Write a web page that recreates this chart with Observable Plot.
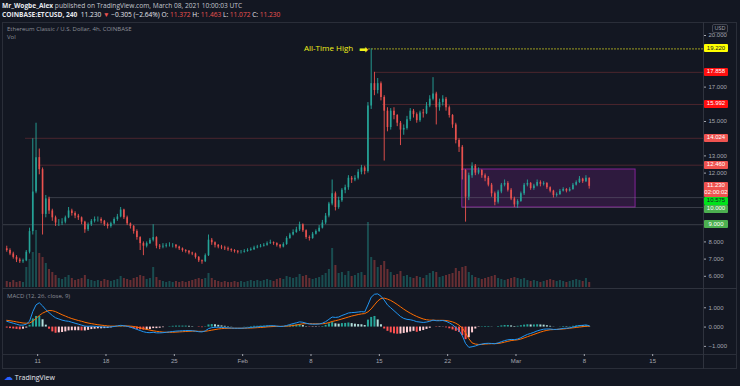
<!DOCTYPE html>
<html><head><meta charset="utf-8">
<script src="https://cdn.jsdelivr.net/npm/d3@7"></script>
<script src="https://cdn.jsdelivr.net/npm/@observablehq/plot@0.6"></script>
<style>
html,body{margin:0;padding:0;background:#131722;}
#root{position:relative;width:740px;height:386px;overflow:hidden;background:#131722;font-family:"Open Sans","Noto Sans",sans-serif;color:#d1d4dc;}
#root svg{position:absolute;left:0;top:0;overflow:visible;}
.t{position:absolute;white-space:nowrap;line-height:1;}
.hl{position:absolute;background:#2a2e39;}
.tag{position:absolute;left:704px;width:24px;font-size:6px;line-height:8px;text-align:center;font-family:"Liberation Sans",sans-serif;border-radius:1px;}
</style></head>
<body><div id="root"></div>
<script>
// ---------------- DATA ----------------
const firstCandle = "2021-01-07T20:00:00Z"; // centre of first 8h candle
const candleHours = 8;
const firstOpen = 7.6;
const closes = [
 7.5,7.3,7.1,6.95,6.85,6.9,7.4,8.6,10.9,12.9,
 12.2,9.6,10.5,9.8,9.4,9.1,9.1,9.15,9.4,9.8,
 9.65,9.5,9.4,9.15,8.7,9.0,9.2,9.3,9.3,9.2,
 9.0,8.9,9.05,9.3,9.45,9.85,9.4,9.05,8.9,8.6,
 8.25,7.9,7.75,7.9,8.1,8.25,7.75,7.7,7.75,7.8,
 7.8,7.8,7.7,7.6,7.5,7.45,7.35,7.3,7.1,6.9,
 6.85,7.2,8.1,7.95,7.8,7.7,7.65,7.6,7.55,7.5,
 7.45,7.4,7.4,7.45,7.5,7.55,7.65,7.7,7.75,7.8,
 7.9,7.95,7.9,7.8,7.7,7.85,8.2,8.4,8.55,8.7,
 9.0,8.65,8.25,8.2,8.45,8.6,8.8,9.1,9.5,10.2,
 10.8,10.0,10.4,11.0,11.15,11.7,11.6,11.7,12.05,12.3,
 12.1,15.9,17.2,16.8,17.2,16.4,15.6,14.65,15.6,15.35,
 14.9,14.5,14.6,15.1,15.6,15.4,15.05,15.5,15.45,15.9,
 16.3,16.6,15.8,16.1,16.3,15.8,15.35,14.8,13.9,13.5,
 12.15,10.6,11.85,12.4,12.0,12.15,11.85,11.7,11.3,10.8,
 10.3,10.9,11.3,11.4,11.0,10.5,10.15,10.35,10.8,11.3,
 11.4,11.1,11.25,11.45,11.35,11.4,11.15,10.95,10.7,10.75,
 10.95,11.05,10.95,11.05,11.3,11.45,11.65,11.5,11.7,11.23];
const highs = [
 7.75,7.6,7.4,7.2,7.05,7.0,7.5,8.8,14.0,14.9,
 13.4,12.3,10.7,10.6,9.9,9.5,9.3,9.35,9.5,10.0,
 9.9,9.75,9.6,9.45,9.2,9.1,9.3,9.45,9.45,9.4,
 9.25,9.1,9.15,9.4,9.6,10.0,9.9,9.5,9.1,8.95,
 8.7,8.3,8.0,8.0,8.2,9.0,8.3,7.85,7.9,7.9,
 7.95,7.9,7.85,7.75,7.65,7.55,7.5,7.4,7.35,7.15,
 6.95,7.3,8.4,8.2,8.0,7.85,7.8,7.75,7.7,7.6,
 7.55,7.5,7.5,7.55,7.6,7.65,7.75,7.8,7.85,7.9,
 8.0,8.1,8.0,7.95,7.85,7.95,8.3,8.5,8.7,8.85,
 9.15,9.05,8.7,8.35,8.55,8.7,8.95,9.25,9.65,10.3,
 11.6,10.9,10.6,11.1,11.3,11.85,11.8,11.85,12.2,12.45,
 12.4,16.1,19.22,17.86,17.5,17.3,16.5,15.8,15.75,15.8,
 15.4,15.0,14.8,15.3,15.75,15.7,15.5,15.6,15.7,16.1,
 16.5,17.55,16.7,16.3,16.5,16.4,15.9,15.4,14.9,14.0,
 13.6,12.2,12.0,12.6,12.5,12.3,12.2,11.95,11.8,11.4,
 10.9,11.0,11.4,11.6,11.5,11.1,10.6,10.45,10.9,11.4,
 11.6,11.45,11.35,11.6,11.55,11.5,11.45,11.2,11.0,10.85,
 11.05,11.15,11.1,11.15,11.4,11.55,11.8,11.7,11.85,11.72];
const lows = [
 7.4,7.2,7.0,6.8,6.75,6.75,6.85,7.3,8.4,10.8,
 11.9,8.4,9.4,9.6,9.2,8.9,8.9,8.95,9.05,9.35,
 9.5,9.35,9.25,9.0,8.5,8.6,8.9,9.1,9.15,9.05,
 8.9,8.75,8.8,9.0,9.2,9.4,9.3,8.95,8.75,8.45,
 8.1,7.5,7.2,7.65,7.85,8.0,7.6,7.55,7.6,7.65,
 7.7,7.65,7.6,7.5,7.4,7.35,7.25,7.2,7.0,6.8,
 6.7,6.8,7.15,7.8,7.65,7.6,7.55,7.5,7.45,7.4,
 7.35,7.3,7.3,7.35,7.4,7.45,7.5,7.6,7.65,7.7,
 7.75,7.85,7.8,7.7,7.6,7.65,7.8,8.15,8.35,8.5,
 8.6,8.55,8.15,8.05,8.15,8.4,8.55,8.75,9.0,9.4,
 10.1,9.8,9.9,10.3,10.8,11.0,11.4,11.5,11.6,11.9,
 11.9,12.0,15.7,16.5,16.6,16.2,12.7,14.4,14.5,15.1,
 14.7,13.6,14.2,14.5,15.0,15.2,14.9,14.95,15.2,15.4,
 15.8,16.2,14.8,15.6,15.9,15.6,15.2,14.6,13.7,13.2,
 11.6,9.15,10.4,11.7,11.85,11.9,11.7,11.5,11.2,10.6,
 10.1,10.2,10.8,11.2,10.9,10.4,10.0,9.95,10.3,10.7,
 11.2,11.0,11.0,11.2,11.2,11.25,11.05,10.85,10.55,10.6,
 10.7,10.9,10.85,10.9,11.0,11.25,11.4,11.4,11.45,11.07];
const volumes = [
 6,5,7,5,6,5,20,28,35,57,
 34,30,24,18,15,12,9,8,10,12,
 9,7,8,9,12,8,7,6,7,6,
 8,7,6,7,8,11,9,8,7,9,
 10,12,11,8,9,20,10,7,6,5,
 6,5,6,5,6,5,6,7,8,9,
 8,9,14,9,7,6,5,6,5,5,
 6,5,6,5,6,7,6,7,6,7,
 8,7,6,8,9,8,11,10,9,10,
 13,11,12,9,8,9,10,12,14,18,
 39,22,14,15,12,16,11,12,14,15,
 12,65,30,27,20,22,26,18,15,12,
 13,16,11,12,10,9,11,10,9,12,
 14,16,15,10,11,12,13,14,19,16,
 20,21,15,12,10,9,8,9,10,11,
 12,9,8,7,8,9,10,9,8,9,
 7,6,7,6,5,6,7,8,7,6,
 7,6,5,6,7,8,7,6,9,5];
const macdLine = [
 0.30,0.25,0.20,0.15,0.10,0.10,0.15,0.30,0.80,1.15,
 1.26,1.10,0.90,0.75,0.60,0.48,0.42,0.36,0.32,0.30,
 0.25,0.20,0.15,0.10,0.05,0.04,0.05,0.04,0.03,0.01,
 0.00,-0.01,0.01,0.03,0.06,0.09,0.07,0.04,0.00,-0.06,
 -0.12,-0.18,-0.24,-0.28,-0.29,-0.27,-0.30,-0.30,-0.29,-0.27,
 -0.25,-0.23,-0.21,-0.20,-0.19,-0.18,-0.18,-0.19,-0.21,-0.24,
 -0.25,-0.20,-0.08,-0.03,-0.01,-0.01,-0.02,-0.03,-0.04,-0.05,
 -0.06,-0.06,-0.06,-0.05,-0.04,-0.02,0.00,0.01,0.03,0.04,
 0.06,0.07,0.07,0.05,0.03,0.04,0.08,0.13,0.18,0.22,
 0.27,0.25,0.20,0.16,0.15,0.15,0.16,0.20,0.28,0.40,
 0.52,0.50,0.52,0.60,0.66,0.73,0.75,0.76,0.78,0.80,
 0.78,1.15,1.55,1.70,1.72,1.60,1.40,1.15,1.00,0.85,
 0.70,0.55,0.45,0.40,0.38,0.34,0.28,0.26,0.24,0.26,
 0.30,0.36,0.33,0.33,0.34,0.30,0.22,0.12,-0.02,-0.18,
 -0.45,-0.85,-1.05,-1.02,-0.98,-0.92,-0.88,-0.85,-0.84,-0.85,
 -0.86,-0.82,-0.76,-0.70,-0.66,-0.64,-0.65,-0.62,-0.55,-0.46,
 -0.38,-0.33,-0.27,-0.20,-0.15,-0.11,-0.10,-0.10,-0.12,-0.12,
 -0.10,-0.07,-0.06,-0.04,0.00,0.04,0.08,0.09,0.11,0.07];
const signalLine = [
 0.35,0.33,0.30,0.27,0.24,0.21,0.20,0.21,0.30,0.45,
 0.60,0.72,0.80,0.86,0.85,0.80,0.72,0.64,0.57,0.50,
 0.44,0.39,0.34,0.30,0.25,0.21,0.18,0.15,0.12,0.10,
 0.08,0.06,0.05,0.05,0.05,0.06,0.06,0.06,0.05,0.03,
 0.00,-0.04,-0.08,-0.12,-0.16,-0.19,-0.22,-0.24,-0.26,-0.27,
 -0.27,-0.27,-0.26,-0.25,-0.24,-0.23,-0.22,-0.21,-0.21,-0.22,
 -0.22,-0.22,-0.19,-0.16,-0.13,-0.10,-0.08,-0.07,-0.06,-0.06,
 -0.06,-0.06,-0.06,-0.06,-0.05,-0.05,-0.04,-0.03,-0.02,-0.01,
 0.01,0.02,0.03,0.04,0.04,0.04,0.05,0.06,0.08,0.11,
 0.14,0.17,0.18,0.18,0.17,0.17,0.17,0.17,0.19,0.23,
 0.29,0.33,0.37,0.42,0.47,0.52,0.57,0.61,0.65,0.68,
 0.70,0.79,0.94,1.15,1.35,1.48,1.50,1.45,1.38,1.28,
 1.17,1.05,0.93,0.82,0.72,0.63,0.55,0.48,0.42,0.38,
 0.36,0.36,0.35,0.35,0.35,0.34,0.31,0.27,0.20,0.10,
 -0.05,-0.30,-0.60,-0.82,-0.88,-0.90,-0.90,-0.88,-0.87,-0.86,
 -0.86,-0.85,-0.82,-0.78,-0.74,-0.70,-0.68,-0.66,-0.62,-0.56,
 -0.50,-0.44,-0.38,-0.32,-0.26,-0.21,-0.17,-0.14,-0.13,-0.12,
 -0.11,-0.10,-0.08,-0.06,-0.04,-0.02,0.00,0.02,0.04,0.05];
const histogram = [
 -0.05,-0.08,-0.10,-0.12,-0.14,-0.11,-0.05,0.09,0.42,0.55,
 0.55,0.38,0.10,-0.11,-0.25,-0.32,-0.30,-0.28,-0.25,-0.20,
 -0.19,-0.19,-0.19,-0.20,-0.20,-0.17,-0.13,-0.11,-0.09,-0.09,
 -0.08,-0.07,-0.04,-0.02,0.01,0.03,0.01,-0.02,-0.05,-0.09,
 -0.12,-0.14,-0.16,-0.16,-0.13,-0.08,-0.08,-0.06,-0.03,0.00,
 0.02,0.04,0.05,0.05,0.05,0.05,0.04,0.02,0.00,-0.02,
 -0.03,0.02,0.11,0.13,0.12,0.09,0.06,0.04,0.02,0.01,
 0.00,0.00,0.00,0.01,0.01,0.03,0.04,0.04,0.05,0.05,
 0.05,0.05,0.04,0.01,-0.01,0.00,0.03,0.07,0.10,0.11,
 0.13,0.08,0.02,-0.02,-0.02,-0.02,-0.01,0.03,0.09,0.17,
 0.23,0.17,0.15,0.18,0.19,0.21,0.18,0.15,0.13,0.12,
 0.08,0.36,0.50,0.55,0.37,0.12,-0.10,-0.22,-0.30,-0.35,
 -0.37,-0.36,-0.33,-0.30,-0.26,-0.22,-0.27,-0.22,-0.18,-0.12,
 -0.06,0.00,-0.02,-0.02,-0.01,-0.04,-0.09,-0.15,-0.22,-0.28,
 -0.45,-0.65,-0.55,-0.30,-0.10,-0.02,0.02,0.03,0.03,0.01,
 0.00,0.03,0.06,0.08,0.08,0.06,0.03,0.04,0.07,0.10,
 0.12,0.11,0.11,0.12,0.11,0.10,0.07,0.04,0.01,0.00,
 0.01,0.03,0.02,0.02,0.04,0.06,0.08,0.07,0.07,0.02];

const levelPrices = [19.22, 17.858, 15.992, 14.024, 12.46, 10.575, 10.0, 9.0];
const levelStarts = ["2021-02-13T22:00Z","2021-02-14T12:00Z","2021-02-15T08:00Z","2021-01-09T18:00Z",
                     "2021-01-11T02:00Z","2021-01-12T03:00Z","2021-02-23T12:00Z","2021-01-07T12:00Z"];
const levelKinds = ["ath","red","red","red","red","grey","grey","grey"];

const boxDates = ["2021-02-23T12:00Z", "2021-03-13T06:00Z"];
const boxPrices = [10.0, 12.21];

const tagPrices = [19.22, 17.858, 15.992, 14.024, 12.46, 11.23, 10.575, 10.0, 9.0];
const tagLabels = ["19.220","17.858","15.992","14.024","12.460","11.230|02:00:02","10.575","10.000","9.000"];
const tagKinds  = ["yellow","red","red","salmon","salmon","salmon","lime","green","green"];

const xTickDates = ["2021-01-11","2021-01-18","2021-01-25","2021-02-01","2021-02-08",
                    "2021-02-15","2021-02-22","2021-03-01","2021-03-08","2021-03-15"];
const monthNames = ["Jan","Feb","Mar"];
const priceTicks = [6, 7, 8, 12, 13, 15, 17, 20]; // the labels not hidden behind price tags
const macdTicks = [-1, 0, 1];
const athLabel = "All-Time High";

// ---------------- STYLE ----------------
const UP = "#26a69a", DN = "#ef5350", AXIS = "#a3a6af";
const tagStyle = {
  yellow: ["#ffff00", "#131722"], red: ["#ff1010", "#ffffff"], salmon: ["#ef5350", "#ffffff"],
  lime: ["#00e21b", "#131722"], green: ["#4caf50", "#ffffff"]
};
const levelStroke = {ath: "#c8c820", red: "rgba(239,83,80,0.26)", grey: "rgba(120,123,134,0.38)"};
const xDomain = [new Date("2021-01-07T12:00Z"), new Date("2021-03-20T05:00Z")];

// ---------------- BUILD ----------------
const root = document.getElementById("root");
const t0 = new Date(firstCandle).getTime();
const rows = closes.map((c, i) => {
  const open = i === 0 ? firstOpen : closes[i - 1];
  return {t: new Date(t0 + i * candleHours * 3600e3), open, close: c, high: highs[i], low: lows[i],
          vol: volumes[i], macd: macdLine[i], signal: signalLine[i], hist: histogram[i], up: c >= open};
});
rows.forEach((d, i) => {
  const prev = i ? rows[i - 1].hist : 0;
  d.histColor = d.hist >= 0 ? (d.hist >= prev ? "#26a69a" : "#b2dfdb") : (d.hist < prev ? "#ff5252" : "#ffcdd2");
});
const levels = levelPrices.map((v, i) => ({v, start: new Date(levelStarts[i]), end: xDomain[1], kind: levelKinds[i]}));
const box = [{x1: new Date(boxDates[0]), x2: new Date(boxDates[1]), y1: boxPrices[0], y2: boxPrices[1]}];
const athRow = rows.reduce((a, b) => (b.high > a.high ? b : a));

const common = {width: 740, marginLeft: 3, marginRight: 37,
  style: {background: "transparent", color: AXIS, fontSize: "6px", fontFamily: "'Liberation Sans', sans-serif", overflow: "visible"}};

function add(el) { root.appendChild(el); return el; }
function div(cls, css, html) { const e = document.createElement("div"); e.className = cls; e.style.cssText = css; if (html != null) e.innerHTML = html; return add(e); }

// frame & separators
div("hl", "left:2px;top:22px;width:735px;height:347px;background:transparent;border:1px solid #2a2e39;box-sizing:border-box;");
div("hl", "left:2px;top:288px;width:735px;height:1px;background:#2f333e;");
div("hl", "left:2px;top:354px;width:735px;height:1px;background:#2a2e39;");
div("hl", "left:703px;top:22px;width:1px;height:347px;background:#2f333e;");

// volume
add(Plot.plot({...common, height: 289, marginTop: 22, marginBottom: 2,
  x: {type: "utc", domain: xDomain, axis: null},
  y: {domain: [0, 265], axis: null},
  marks: [Plot.ruleX(rows, {x: "t", y1: 0, y2: "vol", stroke: d => d.up ? UP : DN, strokeOpacity: 0.38, strokeWidth: 2})]
}));

// price
const pricePlot = add(Plot.plot({...common, height: 289, marginTop: 22, marginBottom: 0,
  x: {type: "utc", domain: xDomain, axis: null},
  y: {domain: [5.233, 20.756], axis: "right", ticks: priceTicks, tickFormat: d => d.toFixed(3), tickSize: 2, tickPadding: 3, label: null},
  marks: [
    Plot.rect(box, {x1: "x1", x2: "x2", y1: "y1", y2: "y2", fill: "#9c27b0", fillOpacity: 0.2, stroke: "#9c27b0", strokeOpacity: 0.8}),
    Plot.ruleY(levels.filter(d => d.kind !== "ath"), {y: "v", x1: "start", x2: "end", stroke: d => levelStroke[d.kind]}),
    Plot.ruleY(levels.filter(d => d.kind === "ath"), {y: "v", x1: "start", x2: "end", stroke: levelStroke.ath, strokeDasharray: "1.5,1.5"}),
    Plot.ruleX(rows, {x: "t", y1: "low", y2: "high", stroke: d => d.up ? UP : DN, strokeWidth: 1, strokeOpacity: 0.9}),
    Plot.ruleX(rows, {x: "t", y1: "open", y2: "close", stroke: d => d.up ? UP : DN, strokeWidth: 1.7, strokeOpacity: 0.9}),
    Plot.text([athRow], {x: "t", y: "high", text: () => athLabel, textAnchor: "end", dx: -18, fill: "#f2f21a", fontSize: 8, fontFamily: "'Open Sans', sans-serif"}),
    Plot.text([athRow], {x: "t", y: "high", text: () => "\u27A1", textAnchor: "end", dx: -3, dy: 0.5, fill: "#f2f21a", fontSize: 11, fontFamily: "'DejaVu Sans', sans-serif"})
  ]
}));

// MACD
add(Plot.plot({...common, height: 370, marginTop: 289, marginBottom: 16,
  x: {type: "utc", domain: xDomain, ticks: xTickDates.map(d => new Date(d + "T00:00Z")),
      tickFormat: d => d.getUTCDate() === 1 ? monthNames[d.getUTCMonth()] : String(d.getUTCDate()), tickSize: 2, tickPadding: 2, label: null},
  y: {domain: [-1.421, 1.947], axis: "right", ticks: macdTicks, tickFormat: d => d.toFixed(3).replace("-", "\u2212"), tickSize: 2, tickPadding: 3, label: null},
  marks: [
    Plot.ruleX(rows, {x: "t", y1: 0, y2: "hist", stroke: "histColor", strokeWidth: 2}),
    Plot.line(rows, {x: "t", y: "signal", stroke: "#ff6d00", strokeWidth: 1}),
    Plot.line(rows, {x: "t", y: "macd", stroke: "#2196f3", strokeWidth: 1})
  ]
}));

// price tags on the axis, placed with the plot's own y scale
const yScale = pricePlot.scale("y");
let lastBottom = -Infinity;
tagPrices.map((v, i) => ({v, i, y: yScale.apply(v)})).sort((a, b) => a.y - b.y).forEach(({i, y}) => {
  const lines = tagLabels[i].split("|");
  const h = lines.length * 7 + 1;
  let top = y - 4;
  if (top < lastBottom) top = lastBottom;
  lastBottom = top + h;
  const [bg, ink] = tagStyle[tagKinds[i]];
  div("tag", `top:${top}px;height:${h}px;line-height:7px;padding-top:0.5px;box-sizing:border-box;background:${bg};color:${ink};`, lines.join("<br>"));
});

// texts
div("t", "left:2px;top:3px;font-size:6.6px;color:#c3c6ce;", "<b style='color:#e6e8ee'>Mr_Wogbe_Alex</b> published on TradingView.com, March 08, 2021 10:00:03 UTC");
div("t", "left:2px;top:12px;font-size:6.6px;color:#e6e8ee;",
  "<b>COINBASE:ETCUSD, 240</b>&nbsp; 11.230 <span style='color:#ef5350'>\u25BC</span> \u22120.305 (\u22122.64%) O: <span style='color:#ef5350'>11.372</span> H: <span style='color:#ef5350'>11.463</span> L: <span style='color:#ef5350'>11.072</span> C: <span style='color:#ef5350'>11.230</span>");
div("t", "left:7px;top:26px;font-size:6px;color:#8d9099;", "Ethereum Classic / U.S. Dollar, 4h, COINBASE");
div("t", "left:7px;top:34px;font-size:6px;color:#8d9099;", "Vol");
div("t", "left:7px;top:293px;font-size:6px;color:#8d9099;", "MACD (12, 26, close, 9)");
div("t", "left:712px;top:24px;font-size:5.5px;color:#a3a6af;border:1px solid #434651;border-radius:2px;padding:0.5px 1.5px;", "USD");
div("t", "left:4px;top:373px;font-size:7px;color:#e6e8ee;", "<span style='color:#2962ff;font-family:\"DejaVu Sans\";font-size:9px'>\u2601</span> TradingView");
</script></body></html>
